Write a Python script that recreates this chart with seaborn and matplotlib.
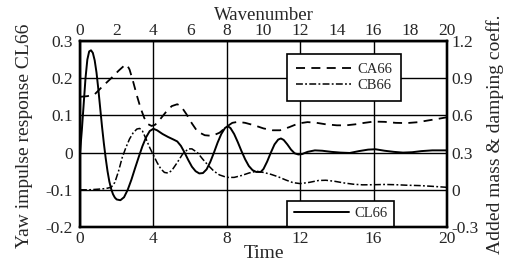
import matplotlib
matplotlib.use("Agg")
import matplotlib.pyplot as plt
import seaborn as sns

# yaw impulse response against time (bottom / left axes)
time_cl = [0.0, 0.1, 0.2, 0.3, 0.4, 0.5, 0.6, 0.7, 0.8, 0.9, 1.0, 1.1, 1.2, 1.3, 1.4, 1.5,
           1.6, 1.7, 1.8, 1.9, 2.0, 2.2, 2.4, 2.6, 2.8, 3.0, 3.2, 3.4, 3.6, 3.8, 4.0, 4.2,
           4.5, 4.8, 5.1, 5.3, 5.5, 5.7, 5.9, 6.1, 6.3, 6.5, 6.7, 6.9, 7.1, 7.3, 7.5, 7.7,
           7.9, 8.05, 8.2, 8.4, 8.6, 8.8, 9.0, 9.2, 9.4, 9.6, 9.85, 10.0, 10.2, 10.4, 10.6,
           10.8, 10.95, 11.1, 11.3, 11.5, 11.7, 11.9, 12.1, 12.4, 12.8, 13.2, 13.7, 14.2,
           14.7, 15.2, 15.7, 16.1, 16.6, 17.1, 17.6, 18.1, 18.6, 19.2, 20.0]
cl66 = [0.0, 0.06, 0.13, 0.2, 0.25, 0.272, 0.275, 0.268, 0.248, 0.215, 0.17, 0.12, 0.07,
        0.025, -0.015, -0.05, -0.078, -0.098, -0.112, -0.121, -0.126, -0.128, -0.12, -0.1,
        -0.073, -0.042, -0.012, 0.017, 0.041, 0.058, 0.064, 0.06, 0.05, 0.042, 0.035, 0.03,
        0.018, 0.0, -0.02, -0.038, -0.05, -0.056, -0.055, -0.045, -0.025, 0.0, 0.027, 0.05,
        0.066, 0.071, 0.066, 0.05, 0.028, 0.004, -0.018, -0.036, -0.047, -0.052, -0.052,
        -0.044, -0.024, 0.0, 0.022, 0.035, 0.038, 0.034, 0.022, 0.008, -0.002, -0.005,
        -0.004, 0.002, 0.006, 0.005, 0.002, 0.0, -0.001, 0.004, 0.008, 0.009, 0.005, 0.002,
        0.0, 0.001, 0.004, 0.006, 0.006]

# added mass / damping against wavenumber (top / right axes)
wave_ca = [0.0, 0.4, 0.8, 1.2, 1.7, 2.1, 2.4, 2.55, 2.7, 2.9, 3.1, 3.3, 3.5, 3.7, 3.9, 4.1,
           4.4, 4.7, 5.0, 5.3, 5.5, 5.8, 6.1, 6.4, 6.8, 7.2, 7.6, 8.0, 8.3, 8.6, 9.0, 9.5,
           10.0, 10.5, 10.9, 11.4, 11.9, 12.4, 12.9, 13.4, 14.0, 14.5, 15.0, 15.5, 16.0,
           16.6, 17.2, 17.8, 18.4, 19.0, 19.5, 20.0]
ca66 = [0.75, 0.755, 0.77, 0.83, 0.9, 0.96, 1.0, 1.01, 0.97, 0.87, 0.76, 0.66, 0.58, 0.53,
        0.515, 0.525, 0.575, 0.63, 0.675, 0.69, 0.675, 0.61, 0.535, 0.47, 0.44, 0.435, 0.46,
        0.51, 0.54, 0.548, 0.54, 0.52, 0.495, 0.48, 0.48, 0.505, 0.535, 0.546, 0.54, 0.528,
        0.52, 0.52, 0.528, 0.54, 0.55, 0.548, 0.54, 0.538, 0.545, 0.56, 0.572, 0.585]
wave_cb = [0.0, 0.5, 1.0, 1.4, 1.7, 1.9, 2.1, 2.3, 2.5, 2.7, 2.9, 3.1, 3.25, 3.4, 3.6, 3.8,
           4.0, 4.2, 4.4, 4.6, 4.8, 5.0, 5.3, 5.6, 5.9, 6.1, 6.4, 6.7, 7.0, 7.3, 7.6, 8.0,
           8.4, 8.8, 9.2, 9.6, 10.0, 10.4, 10.8, 11.2, 11.6, 12.0, 12.5, 13.0, 13.4, 13.9,
           14.4, 14.9, 15.4, 16.0, 16.6, 17.2, 17.8, 18.5, 19.2, 20.0]
cb66 = [0.0, 0.0, 0.005, 0.01, 0.02, 0.06, 0.15, 0.26, 0.34, 0.41, 0.46, 0.49, 0.495, 0.475,
        0.41, 0.34, 0.28, 0.22, 0.17, 0.14, 0.135, 0.155, 0.22, 0.29, 0.33, 0.33, 0.3, 0.245,
        0.195, 0.15, 0.12, 0.1, 0.1, 0.115, 0.135, 0.15, 0.14, 0.125, 0.105, 0.08, 0.058,
        0.05, 0.06, 0.075, 0.077, 0.068, 0.055, 0.045, 0.04, 0.041, 0.043, 0.041, 0.037,
        0.034, 0.028, 0.02]

time_ticks = [0, 4, 8, 12, 16, 20]
wave_ticks = [0, 2, 4, 6, 8, 10, 12, 14, 16, 18, 20]
left_ticks = [-0.2, -0.1, 0.0, 0.1, 0.2, 0.3]
left_labels = ["-0.2", "-0.1", "0", "0.1", "0.2", "0.3"]
right_ticks = [-0.3, 0.0, 0.3, 0.6, 0.9, 1.2]
right_labels = ["-0.3", "0", "0.3", "0.6", "0.9", "1.2"]

sns.set_style("white")
plt.rcParams["font.family"] = ["Liberation Serif", "DejaVu Serif"]
plt.rcParams["font.size"] = 10

fig = plt.figure(figsize=(5.17, 2.67), dpi=100)
ax = fig.add_axes([80 / 517, 1 - 227 / 267, 367 / 517, 186 / 267])
ax2 = ax.twinx()
ax3 = ax2.twiny()

sns.lineplot(x=time_cl, y=cl66, ax=ax, color="black", linewidth=1.4, label="CL66")
sns.lineplot(x=wave_ca, y=ca66, ax=ax3, color="black", linewidth=1.3, label="CA66")
sns.lineplot(x=wave_cb, y=cb66, ax=ax3, color="black", linewidth=1.1, label="CB66")
ax3.lines[0].set_dashes([5, 3.5])
ax3.lines[1].set_dashes([4.5, 1.5, 1.2, 1.5])

ax.set_xlim(0, 20)
ax.set_ylim(-0.2, 0.3)
ax2.set_ylim(-0.3, 1.2)
ax3.set_xlim(0, 20)

ax.set_xticks(time_ticks)
ax.set_yticks(left_ticks)
ax.set_yticklabels(left_labels)
ax2.set_yticks(right_ticks)
ax2.set_yticklabels(right_labels)
ax3.set_xticks(wave_ticks)

for a in (ax, ax2, ax3):
    a.tick_params(length=0, labelsize=12.5, pad=3)
    for s in a.spines.values():
        s.set_color("black")
        s.set_linewidth(1.6)
ax.tick_params(axis="y", pad=5)
ax3.tick_params(axis="x", pad=1.5)

ax.grid(True, color="black", linewidth=1.0)
ax.set_axisbelow(True)

label_font = dict(fontsize=14)
ax.set_xlabel("Time", **label_font)
ax.xaxis.set_label_coords(0.5, -0.095)
ax.set_ylabel("Yaw impulse response CL66", **label_font)
ax.yaxis.set_label_coords(-0.128, 0.49)
ax2.set_ylabel("Added mass & damping coeff.", **label_font)
ax2.yaxis.set_label_coords(1.106, 0.5)
ax3.set_xlabel("Wavenumber", fontsize=13.5)
ax3.xaxis.set_label_coords(0.5, 1.112)

leg_style = dict(frameon=True, fancybox=False, framealpha=1, edgecolor="black",
                 handlelength=3.8, handletextpad=0.4, borderaxespad=0, fontsize=10.5)
leg1 = ax3.legend(loc="upper left", bbox_to_anchor=(0.564, 0.93), borderpad=0.6,
                  labelspacing=0.2, **leg_style)
leg2 = ax.legend(loc="lower left", bbox_to_anchor=(0.564, 0.0), borderpad=0.45, **leg_style)
for leg in (leg1, leg2):
    leg.get_frame().set_linewidth(1.2)

fig.savefig("out.png", dpi=100)
